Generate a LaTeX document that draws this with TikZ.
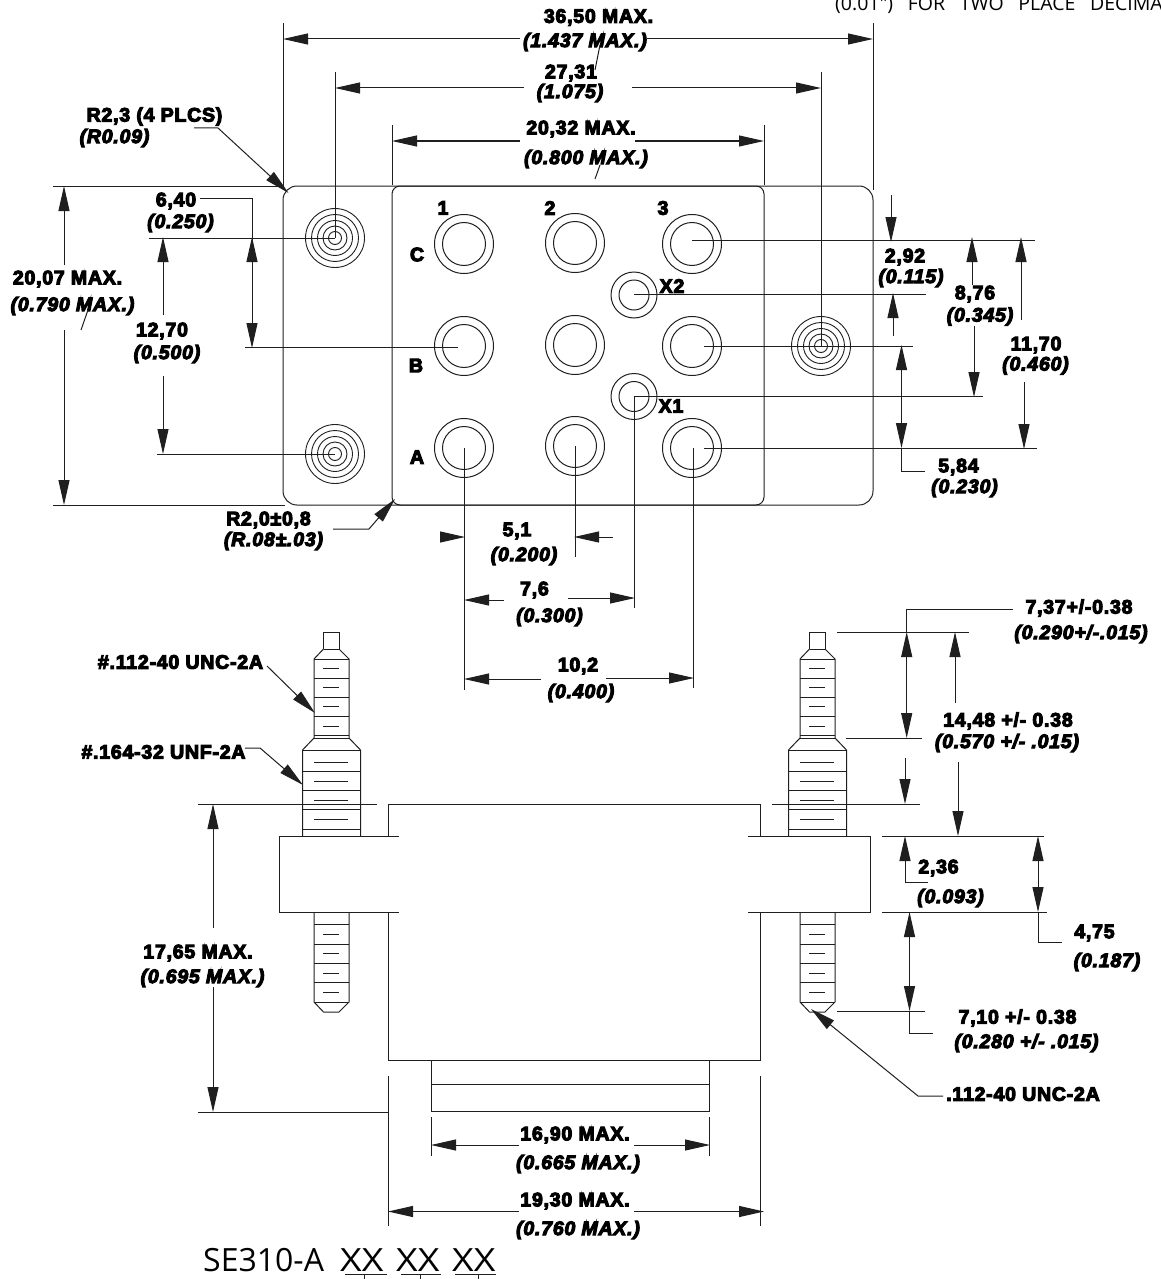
\documentclass[tikz,border=0pt]{standalone}
\usepackage{fontspec}
\usetikzlibrary{arrows.meta}
\newfontfamily\dimfont{Liberation Sans Bold}[FakeBold=5.5,LetterSpace=4]
\newfontfamily\dimital{Liberation Sans Bold Italic}[FakeBold=5.5,LetterSpace=4]
\newfontfamily\plainfont{Open Sans}
\newfontfamily\xxfont{Open Sans}[FakeStretch=1.17]
\newfontfamily\noteface{Open Sans}[WordSpace=2.9]
\tikzset{
  ln/.style={line width=1pt,draw=black!88},
  arr/.style={ln,-{Triangle[length=25pt,width=11pt]}},
  dimb/.style={inner sep=0pt,font=\fontsize{19.5}{19.5}\selectfont\dimfont},
  dimi/.style={inner sep=0pt,font=\fontsize{19.5}{19.5}\selectfont\dimital},
  pn/.style={inner sep=0pt,anchor=base west,font=\fontsize{32}{32}\selectfont\plainfont},
  xxn/.style={inner sep=0pt,anchor=base west,font=\fontsize{32}{32}\selectfont\xxfont},
}
\newcommand\contact[2]{\draw[ln] (#1,#2) circle[radius=29.5pt] (#1,#2) circle[radius=21.5pt];}
\newcommand\xpin[2]{\draw[ln] (#1,#2) circle[radius=23pt] (#1,#2) circle[radius=15pt];}
\newcommand\screw[2]{\draw[ln,line width=.9pt] (#1,#2) circle[radius=29.5pt] (#1,#2) circle[radius=23.5pt] (#1,#2) circle[radius=17.5pt] (#1,#2) circle[radius=12pt] (#1,#2) circle[radius=6.5pt];}
\newcommand\studshape{%
  \draw[ln] (323.5,649) -- (323.5,632) -- (339,632) -- (339,649);
  \draw[ln] (323.5,649) -- (339,649);
  \draw[ln] (302.5,836) -- (302.5,750) -- (314,738) -- (314,659) -- (323.5,649);
  \draw[ln] (360.5,836) -- (360.5,750) -- (349,738) -- (349,659) -- (339,649);
  \foreach \yy in {659,678,697,716,735,738} \draw[ln] (314,\yy) -- (349,\yy);
  \foreach \yy in {668,687,706,726} \draw[ln] (323,\yy) -- (339,\yy);
  \foreach \yy in {750,771,790,809.5,829} \draw[ln] (302.5,\yy) -- (360.5,\yy);
  \foreach \yy in {762,781,800,819} \draw[ln] (314,\yy) -- (348,\yy);
  \draw[ln] (314,912) -- (314,1002) -- (323.5,1012) -- (339,1012) -- (349,1002) -- (349,912);
  \foreach \yy in {924.5,944,963,982,1002} \draw[ln] (314,\yy) -- (349,\yy);
  \foreach \yy in {934,953,973,992} \draw[ln] (323,\yy) -- (339,\yy);
}
\begin{document}
\begin{tikzpicture}[x=1pt,y=-1pt]
\useasboundingbox (0,0) rectangle (1160,1279);

% ---------- top view
\draw[ln,rounded corners=14pt] (283,186) rectangle (873,505);
\draw[ln,rounded corners=8pt] (392,186) rectangle (764,505);
\screw{335}{238}\screw{335}{454}\screw{821}{346}
\contact{464}{244}\contact{464}{346}\contact{464}{448}
\contact{575}{243}\contact{575}{345}\contact{575}{446}
\contact{692}{244}\contact{692}{346}\contact{692}{448}
\xpin{634}{295}\xpin{634}{396.5}

\node[dimb] (c1) at (443,208) {1};
\node[dimb] (c2) at (550,208) {2};
\node[dimb] (c3) at (663,208) {3};
\node[dimb] (rc) at (417,254.5) {C};
\node[dimb] (rb) at (416,365.5) {B};
\node[dimb] (ra) at (417,457) {A};
\node[dimb] (x2) at (672,286) {X2};
\node[dimb] (x1) at (671,406) {X1};

% overall width
\draw[ln] (283,23) -- (283,186);
\draw[ln] (873,23) -- (873,190);
\draw[arr] (520,39) -- (283,39);
\draw[arr] (647,39) -- (873,39);
\node[dimb] (w1) at (598.5,17.5) {36,50 MAX.};
\node[dimi] (w1i) at (585,42) {(1.437 MAX.)};
\draw[ln] (600,45) -- (595,70);

\draw[ln] (335,72) -- (335,238);
\draw[ln] (821,72) -- (821,346);
\draw[arr] (524,88) -- (335,88);
\draw[arr] (632,88) -- (821,88);
\node[dimb] (w2) at (571,73) {27,31};
\node[dimi] (w2i) at (570,93) {(1.075)};

\draw[ln] (392,125) -- (392,185);
\draw[ln] (764,125) -- (764,185);
\draw[arr] (520,141) -- (392,141);
\draw[arr] (635,141) -- (764,141);
\node[dimb] (w3) at (581,129) {20,32 MAX.};
\node[dimi] (w3i) at (586,159) {(0.800 MAX.)};
\draw[ln] (600,165) -- (595,179);

% corner radius
\node[dimb] (r1) at (154.5,116.5) {R2,3 (4 PLCS)};
\node[dimi] (r1i) at (114.5,138) {(R0.09)};
\draw[arr] (194,128) -- (218,128) -- (288.5,193);

% height
\draw[ln] (53,186) -- (283,186);
\draw[ln] (53,505) -- (285,505);
\draw[arr] (64,265) -- (64,186);
\draw[arr] (64,330) -- (64,505);
\node[dimb] (h1) at (67.5,279) {20,07 MAX.};
\node[dimi] (h1i) at (72.5,306) {(0.790 MAX.)};
\draw[ln] (88,310) -- (81,330);

% 6,40
\node[dimb] (d640) at (176,201) {6,40};
\node[dimi] (d640i) at (180.5,223) {(0.250)};
\draw[ln] (200,198) -- (252,198) -- (252,320);
\draw[arr] (252,270) -- (252,237);
\draw[arr] (252,320) -- (252,348);
\draw[ln] (149,238) -- (335,238);
\draw[ln] (245,347) -- (458,347);

% 12,70
\draw[arr] (163,315) -- (163,237);
\draw[arr] (163,376) -- (163,454);
\draw[ln] (157,454) -- (335,454);
\node[dimb] (d1270) at (162,331) {12,70};
\node[dimi] (d1270i) at (167,354) {(0.500)};

% R2,0
\node[dimb] (r2) at (268.5,520) {R2,0±0,8};
\node[dimi] (r2i) at (273.5,541) {(R.08±.03)};
\draw[arr] (333,529) -- (369,529) -- (395,499);

% right side extension lines
\draw[ln] (692,240) -- (1035,240);
\draw[ln] (634,294) -- (926,294);
\draw[ln] (704,346) -- (913,346);
\draw[ln] (634,396) -- (983,396);
\draw[ln] (704,448) -- (1037,448);

\draw[arr] (891,195) -- (891,242);
\draw[arr] (893,336) -- (893,293);
\node[dimb] (d292) at (905,257) {2,92};
\node[dimi] (d292i) at (911,278) {(0.115)};

\draw[arr] (972,285) -- (972,237);
\draw[arr] (974,326) -- (974,397);
\node[dimb] (d876) at (975,294) {8,76};
\node[dimi] (d876i) at (980,316.5) {(0.345)};

\draw[arr] (1021,320) -- (1021,237);
\draw[arr] (1024,382) -- (1024,449);
\node[dimb] (d1170) at (1036,345) {11,70};
\node[dimi] (d1170i) at (1035.5,365.5) {(0.460)};

\draw[arr] (901.5,400) -- (901.5,345);
\draw[arr] (901.5,400) -- (901.5,448);
\draw[ln] (901.5,448) -- (901.5,471) -- (925,471);
\node[dimb] (d584) at (958.5,467) {5,84};
\node[dimi] (d584i) at (964.5,488) {(0.230)};

% bottom pitch dimensions
\draw[ln] (464,448) -- (464,690);
\draw[ln] (575,446) -- (575,557);
\draw[ln] (634,396) -- (634,608);
\draw[ln] (693,448) -- (693,688);

\draw[arr] (441,537) -- (465,537);
\draw[arr] (613,537) -- (574,537);
\node[dimb] (d51) at (517,531) {5,1};
\node[dimi] (d51i) at (524,556) {(0.200)};

\draw[arr] (504,600) -- (464,600);
\draw[arr] (568,598) -- (635,598);
\node[dimb] (d76) at (534.5,590) {7,6};
\node[dimi] (d76i) at (549.5,617) {(0.300)};

\draw[arr] (541,679) -- (464,679);
\draw[arr] (606,678) -- (694,678);
\node[dimb] (d102) at (578,666) {10,2};
\node[dimi] (d102i) at (581,693) {(0.400)};

% ---------- side view
\draw[ln] (399,836) -- (279,836) -- (279,912) -- (399,912);
\draw[ln] (748,836) -- (870,836) -- (870,912) -- (748,912);
\draw[ln] (388,836) -- (388,804) -- (760,804) -- (760,836);
\draw[ln] (388,912) -- (388,1060) -- (760,1060) -- (760,912);
\draw[ln] (431,1060) -- (431,1111) -- (709,1111) -- (709,1060);
\draw[ln] (431,1084) -- (709,1084);
\studshape
\begin{scope}[xshift=486pt]\studshape\end{scope}

% left dims side view
\draw[ln] (198,804) -- (377,804);
\draw[arr] (213,928) -- (213,804);
\draw[arr] (213,987) -- (213,1112);
\draw[ln] (198,1112) -- (388,1112);
\node[dimb] (d1765) at (198,953) {17,65 MAX.};
\node[dimi] (d1765i) at (202.5,978) {(0.695 MAX.)};

\node[dimb] (th1) at (180.5,662) {\#.112-40 UNC-2A};
\draw[arr] (267,666) -- (315,713);
\node[dimb] (th2) at (163.5,752) {\#.164-32 UNF-2A};
\draw[arr] (245,748) -- (260,748) -- (303,785);

% right dims side view
\draw[ln] (772,804) -- (920,804);
\draw[ln] (837,632) -- (969,632);
\draw[ln] (846,738) -- (922,738);
\draw[ln] (882,836) -- (1044,836);
\draw[ln] (882,912) -- (1047,912);
\draw[ln] (837,1011) -- (925,1011);

\draw[ln] (1012.7,609) -- (906.7,609) -- (906.7,632);
\draw[arr] (906.7,690) -- (906.7,632);
\draw[arr] (906.7,690) -- (906.7,738);
\draw[arr] (905,758) -- (905,804);
\node[dimb] (d737) at (1079,608) {7,37+/-0.38};
\node[dimi] (d737i) at (1081,634) {(0.290+/-.015)};

\draw[arr] (955,703) -- (955,632);
\draw[arr] (958,762) -- (958,836);
\node[dimb] (d1448) at (1008,721) {14,48 +/- 0.38};
\node[dimi] (d1448i) at (1007,743) {(0.570 +/- .015)};

\draw[arr] (905,882) -- (905,836);
\draw[ln] (905,882) -- (928,882);
\node[dimb] (d236) at (938.5,868) {2,36};
\node[dimi] (d236i) at (950.5,898) {(0.093)};

\draw[arr] (1038,875) -- (1038,836);
\draw[arr] (1038,875) -- (1038,912);
\draw[ln] (1038,912) -- (1038,942) -- (1062,942);
\node[dimb] (d475) at (1094.5,933) {4,75};
\node[dimi] (d475i) at (1107,962) {(0.187)};

\draw[arr] (909.5,960) -- (909.5,912);
\draw[arr] (909.5,960) -- (909.5,1011);
\draw[ln] (909.5,1011) -- (909.5,1033) -- (933,1033);
\node[dimb] (d710) at (1017.5,1018) {7,10 +/- 0.38};
\node[dimi] (d710i) at (1026.5,1043) {(0.280 +/- .015)};

\draw[arr] (943,1096) -- (918,1096) -- (811,1009);
\node[dimb] (th3) at (1023,1094) {.112-40 UNC-2A};

% lower widths
\draw[ln] (431,1117) -- (431,1156);
\draw[ln] (709,1117) -- (709,1156);
\draw[arr] (519,1145) -- (431,1145);
\draw[arr] (634,1145) -- (710,1145);
\node[dimb] (d1690) at (575,1135) {16,90 MAX.};
\node[dimi] (d1690i) at (578,1164) {(0.665 MAX.)};

\draw[ln] (388,1076) -- (388,1226);
\draw[ln] (760.5,1076) -- (760.5,1226);
\draw[arr] (519,1211.5) -- (388,1211.5);
\draw[arr] (634,1211.5) -- (764,1211.5);
\node[dimb] (d1930) at (575,1201) {19,30 MAX.};
\node[dimi] (d1930i) at (578,1230) {(0.760 MAX.)};

% part number
\node[pn] (pn) at (203,1271) {SE310-A};
\node[xxn] (xa) at (340,1271) {XX};
\node[xxn] (xb) at (396,1271) {XX};
\node[xxn] (xc) at (452,1271) {XX};
\draw[ln,line width=1.5pt] (345,1274.5) -- (387,1274.5) (401,1274.5) -- (441,1274.5) (455,1274.5) -- (496,1274.5);
\draw[ln] (364,1275) -- (364,1279) (420,1275) -- (420,1279) (478,1275) -- (478,1279);

% clipped note
\node[inner sep=0pt,anchor=base west,font=\fontsize{19.5}{19.5}\selectfont\noteface] (note) at (835,11) {(0.01") FOR TWO PLACE DECIMA};
\end{tikzpicture}
\end{document}
